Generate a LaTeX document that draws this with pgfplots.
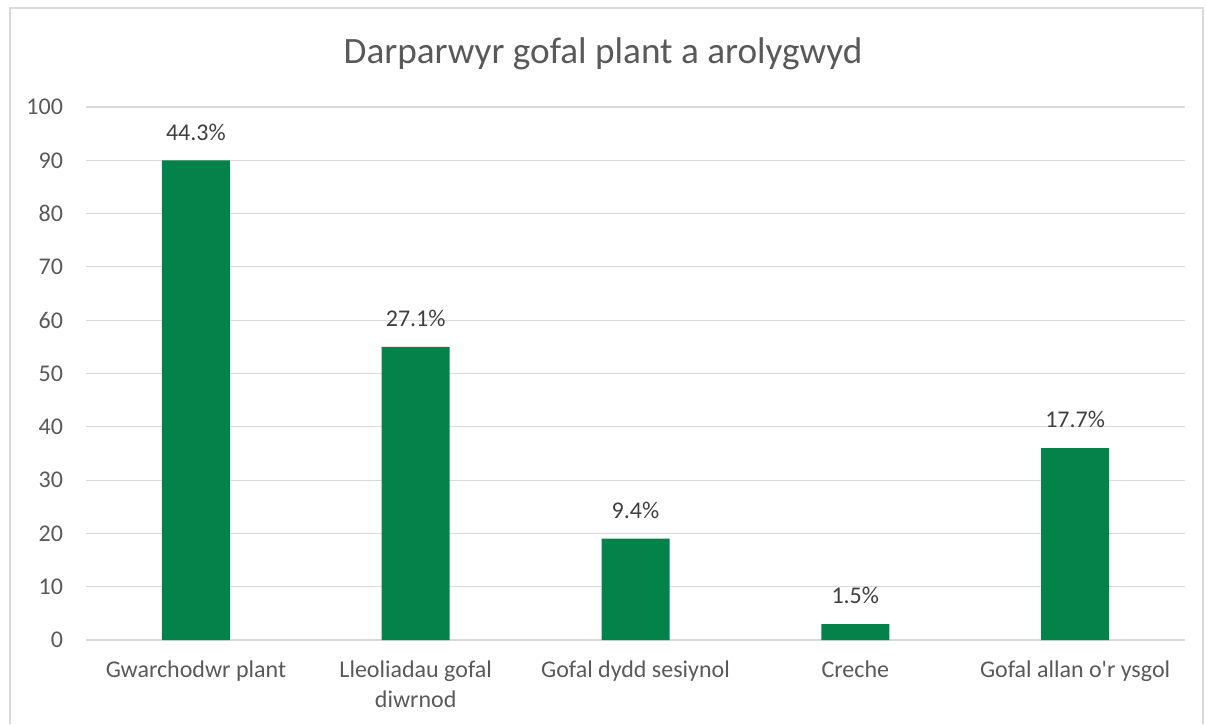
\documentclass[border=0pt]{standalone}
\usepackage{pgfplots}
\pgfplotsset{compat=1.18}
\usepackage{fontspec}
\setmainfont{Carlito}
\definecolor{bargreen}{HTML}{038249}
\definecolor{gridgray}{HTML}{D9D9D9}
\definecolor{txtgray}{HTML}{595959}
\definecolor{lblgray}{HTML}{404040}
\begin{document}
\begin{tikzpicture}
\useasboundingbox (0,0) rectangle (603pt,362pt);
\draw[gridgray, line width=0.6pt] (5pt,0) -- (5pt,358pt) -- (601.5pt,358pt) -- (601.5pt,0);
\node[txtgray, font=\fontsize{18.6}{21}\selectfont] at (301.5pt,335pt) {Darparwyr gofal plant a arolygwyd};
\begin{axis}[
  at={(43pt,42pt)}, anchor=south west,
  scale only axis, width=549.5pt, height=266.5pt,
  xmin=-0.5, xmax=4.5, ymin=0, ymax=100,
  ytick={0,10,...,100},
  xtick={0,1,2,3,4},
  xticklabels={Gwarchodwr plant, Lleoliadau gofal\\diwrnod, Gofal dydd sesiynol, Creche, Gofal allan o\textquotesingle r ysgol},
  xticklabel style={align=center, text=txtgray, font=\fontsize{12}{15}\selectfont, yshift=-7pt},
  yticklabel style={text=txtgray, font=\fontsize{12}{14}\selectfont, xshift=-8pt},
  /pgf/number format/assume math mode=true,
  ymajorgrids, grid style={gridgray, line width=0.6pt},
  axis line style={draw=none},
  extra y ticks={0}, extra y tick labels={},
  extra y tick style={grid style={gridgray, line width=0.8pt}},
  major tick length=0pt,
  ybar, bar width=34pt,
  nodes near coords,
  point meta=explicit symbolic,
  every node near coord/.append style={text=lblgray, font=\fontsize{12}{14}\selectfont, yshift=6.5pt},
]
\addplot[fill=bargreen, draw=none] table[meta=lbl] {
x y lbl
0 90 44.3\%
1 55 27.1\%
2 19 9.4\%
3 3 1.5\%
4 36 17.7\%
};
\end{axis}
\end{tikzpicture}
\end{document}
